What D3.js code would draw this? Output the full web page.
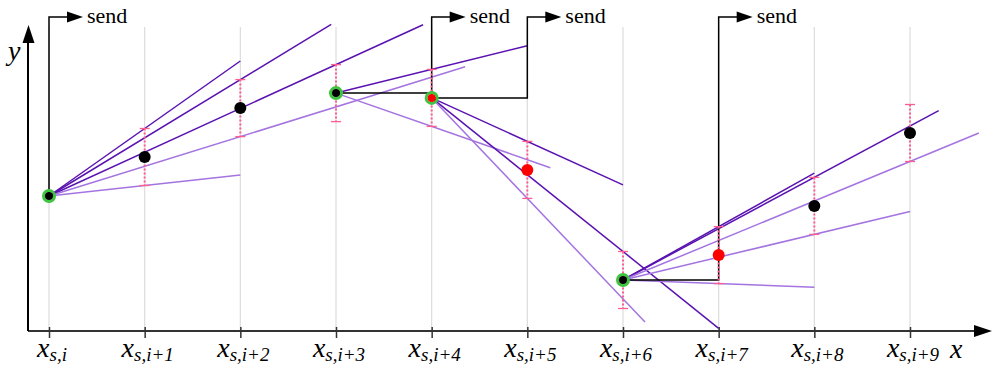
<!DOCTYPE html>
<html>
<head>
<meta charset="utf-8">
<script src="https://cdn.jsdelivr.net/npm/d3@7"></script>
<style>
  body { margin: 0; background: #fff; }
  svg { display: block; }
</style>
</head>
<body>
<svg id="chart" width="992" height="372"></svg>
<script>
// sample points (index along x, value), kind of marker
const tickLabels = ['i', 'i+1', 'i+2', 'i+3', 'i+4', 'i+5', 'i+6', 'i+7', 'i+8', 'i+9'];
const values = [45, 58, 74.3, 79.3, 77.7, 53.7, 17, 25.3, 41.7, 66];
const kinds = ['start', 'dot', 'dot', 'start', 'startRed', 'red', 'start', 'red', 'dot', 'dot'];
const errHalf = 9.5;
const withError = [false, true, true, true, true, true, true, true, true, true];

// door lines: pivot index, index it passes through, which end of that error bar, where it stops, tone
const doorFrom = [0, 0, 0, 0, 0, 3, 3, 4, 4, 4, 6, 6, 6, 6, 6];
const doorThru = [1, 2, 3, 2, 1, 4, 4, 5, 6, 5, 7, 8, 9, 8, 7];
const doorSide = ['top', 'top', 'top', 'bot', 'bot', 'top', 'bot', 'top', 'top', 'bot', 'top', 'top', 'bot', 'bot', 'bot'];
const doorEnd = [2, 2.95, 3.91, 4.35, 2, 5, 5.24, 6, 7, 6.23, 8, 9.3, 9.72, 9, 8];
const doorTone = ['dark', 'dark', 'dark', 'light', 'light', 'dark', 'light', 'dark', 'dark', 'light', 'dark', 'dark', 'light', 'light', 'light'];

// archived points and where the "send" arrow rises
const sendFrom = [0, 3, 4, 6];
const sendAt = [0, 4, 5, 7];

const svg = d3.select('#chart');
const x = d3.scaleLinear().domain([0, 9]).range([49, 910]);
const y = d3.scaleLinear().domain([0, 100]).range([331, 31]);

const serif = '"Liberation Serif"';
const dark = '#5a12b0';
const light = '#a474e0';
const pink = '#ff5c8f';

// grid
svg.append('g')
  .selectAll('line')
  .data(d3.range(10))
  .join('line')
  .attr('x1', (d) => x(d)).attr('x2', (d) => x(d))
  .attr('y1', 27).attr('y2', y(0))
  .attr('stroke', '#dcdcdc').attr('stroke-width', 1.2);

// axes
const axisColor = '#333';
svg.append('line')
  .attr('x1', 28).attr('x2', 978).attr('y1', y(0)).attr('y2', y(0))
  .attr('stroke', axisColor).attr('stroke-width', 2);
svg.append('path')
  .attr('d', `M992,${y(0)} L974,${y(0) - 6} L974,${y(0) + 6} Z`)
  .attr('fill', '#000');
svg.append('line')
  .attr('x1', 28).attr('x2', 28).attr('y1', y(0)).attr('y2', 40)
  .attr('stroke', '#000').attr('stroke-width', 2);
svg.append('path')
  .attr('d', `M28.5,25 L22.5,43 L34.5,43 Z`)
  .attr('fill', '#000');

const xAxis = svg.append('g')
  .attr('transform', `translate(0,${y(0)})`)
  .call(d3.axisBottom(x).tickValues(d3.range(10)).tickSize(7).tickFormat(''));
xAxis.select('.domain').remove();
xAxis.selectAll('.tick line').attr('y1', -4).attr('stroke', axisColor).attr('stroke-width', 1.5);

const lbl = svg.append('g')
  .selectAll('text')
  .data(tickLabels)
  .join('text')
  .attr('x', (d, i) => x(i) + 3)
  .attr('y', 357)
  .attr('text-anchor', 'middle')
  .style('font-family', serif)
  .style('font-style', 'italic');
lbl.append('tspan').style('font-size', '28px').text('x');
lbl.append('tspan').style('font-size', '19px').attr('dy', 4).text((d) => 's,' + d);

svg.append('text').attr('x', 950).attr('y', 358)
  .style('font-family', serif).style('font-style', 'italic').style('font-size', '28px').text('x');
svg.append('text').attr('x', 8).attr('y', 60)
  .style('font-family', serif).style('font-style', 'italic').style('font-size', '28px').text('y');

// door lines
const doors = doorFrom.map((f, i) => {
  const t = doorThru[i];
  const tv = values[t] + (doorSide[i] === 'top' ? errHalf : -errHalf);
  const slope = (tv - values[f]) / (t - f);
  return { x0: f, y0: values[f], x1: doorEnd[i], y1: values[f] + slope * (doorEnd[i] - f), tone: doorTone[i] };
});
svg.append('g')
  .selectAll('line')
  .data(doors)
  .join('line')
  .attr('x1', (d) => x(d.x0)).attr('y1', (d) => y(d.y0))
  .attr('x2', (d) => x(d.x1)).attr('y2', (d) => y(d.y1))
  .attr('stroke', (d) => (d.tone === 'dark' ? dark : light))
  .attr('stroke-width', 1.5);

// send connectors
const sends = svg.append('g');
sendFrom.forEach((f, i) => {
  const a = sendAt[i];
  const px = x(a);
  sends.append('path')
    .attr('d', `M${x(f)},${y(values[f])} L${px},${y(values[f])} L${px},17 L${px + 20},17`)
    .attr('fill', 'none').attr('stroke', '#000').attr('stroke-width', 1.5);
  sends.append('path')
    .attr('d', `M${px + 34},17 L${px + 18},11.5 L${px + 18},22.5 Z`)
    .attr('fill', '#000');
  sends.append('text')
    .attr('x', px + 38).attr('y', 23)
    .style('font-family', serif).style('font-size', '22px')
    .text('send');
});

// error bars
const errs = svg.append('g');
values.forEach((v, i) => {
  if (!withError[i]) return;
  const px = x(i);
  errs.append('line')
    .attr('x1', px).attr('x2', px).attr('y1', y(v + errHalf)).attr('y2', y(v - errHalf))
    .attr('stroke', pink).attr('stroke-width', 2).attr('stroke-dasharray', '2,2');
  [v + errHalf, v - errHalf].forEach((e) => {
    errs.append('line')
      .attr('x1', px - 5).attr('x2', px + 5).attr('y1', y(e)).attr('y2', y(e))
      .attr('stroke', pink).attr('stroke-width', 1.3);
  });
});

// markers
const pts = svg.append('g')
  .selectAll('g')
  .data(values)
  .join('g')
  .attr('transform', (d, i) => `translate(${x(i)},${y(d)})`);
pts.filter((d, i) => kinds[i].startsWith('start'))
  .append('circle').attr('r', 5.5).attr('fill', 'none')
  .attr('stroke', '#3ec43e').attr('stroke-width', 3);
pts.append('circle')
  .attr('r', (d, i) => (kinds[i].startsWith('start') ? 4 : 6))
  .attr('fill', (d, i) => (kinds[i] === 'red' || kinds[i] === 'startRed' ? '#ff0000' : '#000'));
</script>
</body>
</html>
